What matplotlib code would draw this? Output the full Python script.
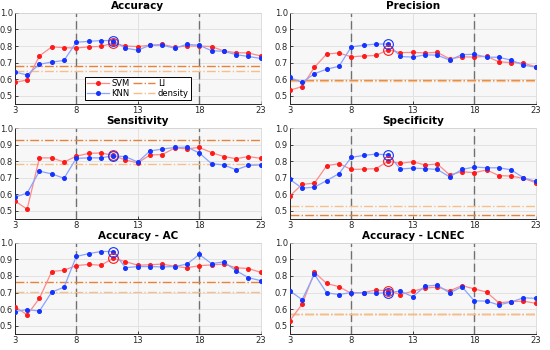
import matplotlib.pyplot as plt
import numpy as np

plt.rcParams.update({'font.size': 6, 'font.family': 'DejaVu Sans'})

# 数据
x = np.arange(3, 24)
titles = ['Accuracy', 'Precision', 'Sensitivity', 'Specificity', 'Accuracy - AC', 'Accuracy - LCNEC']

svm_acc = [0.58, 0.595, 0.74, 0.795, 0.79, 0.788, 0.795, 0.798, 0.818, 0.80, 0.797, 0.805, 0.81, 0.793, 0.80, 0.80, 0.797, 0.77, 0.76, 0.758, 0.74]
knn_acc = [0.643, 0.625, 0.69, 0.703, 0.713, 0.823, 0.828, 0.833, 0.833, 0.787, 0.775, 0.805, 0.805, 0.787, 0.81, 0.805, 0.772, 0.768, 0.748, 0.737, 0.725]
svm_pre = [0.533, 0.555, 0.672, 0.752, 0.758, 0.735, 0.74, 0.743, 0.778, 0.76, 0.762, 0.758, 0.762, 0.722, 0.735, 0.733, 0.738, 0.705, 0.70, 0.697, 0.675]
knn_pre = [0.61, 0.58, 0.633, 0.66, 0.678, 0.795, 0.805, 0.812, 0.812, 0.737, 0.733, 0.747, 0.745, 0.715, 0.748, 0.75, 0.733, 0.732, 0.715, 0.685, 0.672]
svm_sen = [0.56, 0.51, 0.82, 0.82, 0.795, 0.83, 0.847, 0.85, 0.835, 0.807, 0.79, 0.838, 0.84, 0.88, 0.875, 0.883, 0.852, 0.828, 0.815, 0.828, 0.817]
knn_sen = [0.583, 0.607, 0.74, 0.723, 0.697, 0.817, 0.82, 0.82, 0.833, 0.827, 0.795, 0.862, 0.873, 0.883, 0.885, 0.85, 0.785, 0.777, 0.748, 0.775, 0.777]
svm_spe = [0.59, 0.66, 0.667, 0.773, 0.785, 0.75, 0.752, 0.755, 0.80, 0.787, 0.797, 0.777, 0.783, 0.717, 0.737, 0.73, 0.747, 0.713, 0.71, 0.697, 0.67]
knn_spe = [0.69, 0.637, 0.643, 0.683, 0.725, 0.823, 0.835, 0.843, 0.838, 0.753, 0.758, 0.755, 0.75, 0.705, 0.75, 0.765, 0.76, 0.76, 0.748, 0.70, 0.678]
svm_ac = [0.615, 0.565, 0.665, 0.827, 0.835, 0.863, 0.87, 0.865, 0.907, 0.887, 0.865, 0.868, 0.872, 0.858, 0.85, 0.862, 0.867, 0.872, 0.85, 0.845, 0.822]
knn_ac = [0.585, 0.597, 0.588, 0.703, 0.732, 0.918, 0.935, 0.948, 0.948, 0.85, 0.857, 0.857, 0.855, 0.857, 0.872, 0.93, 0.875, 0.885, 0.832, 0.79, 0.772]
svm_lc = [0.53, 0.63, 0.822, 0.755, 0.735, 0.695, 0.70, 0.715, 0.71, 0.688, 0.708, 0.727, 0.733, 0.71, 0.742, 0.722, 0.703, 0.638, 0.645, 0.648, 0.635]
knn_lc = [0.71, 0.657, 0.81, 0.698, 0.688, 0.70, 0.698, 0.695, 0.70, 0.708, 0.675, 0.738, 0.745, 0.697, 0.735, 0.65, 0.648, 0.625, 0.643, 0.668, 0.665]

svm_all = [svm_acc, svm_pre, svm_sen, svm_spe, svm_ac, svm_lc]
knn_all = [knn_acc, knn_pre, knn_sen, knn_spe, knn_ac, knn_lc]
li_vals = [0.68, 0.593, 0.928, 0.472, 0.765, 0.573]
density_vals = [0.65, 0.587, 0.785, 0.53, 0.705, 0.573]
best_x = 11
xticks = [3, 8, 13, 18, 23]

# 颜色
red, red_line = '#ff1a1a', '#ff8a8a'
blue, blue_line = '#1433ff', '#8aa4ff'
li_col, den_col = '#e8823a', '#f6bf8a'

fig = plt.figure(figsize=(5.5, 3.5), dpi=100)
lefts = [0.027, 0.527]
bottoms = [0.703, 0.374, 0.046]
w, h = 0.447, 0.26

for i in range(6):
    ax = fig.add_axes([lefts[i % 2], bottoms[i // 2], w, h])
    ax.set_facecolor('#f7f7f7')
    svm = np.array(svm_all[i])
    knn = np.array(knn_all[i])
    ax.axvline(8, color='#707070', linestyle=(0, (6, 3)), linewidth=1.0, zorder=1)
    ax.axvline(18, color='#707070', linestyle=(0, (6, 3)), linewidth=1.0, zorder=1)
    l1, = ax.plot(x, svm, color=red_line, linewidth=0.9, marker='o', markersize=2.6,
                  markerfacecolor=red, markeredgecolor=red, label='SVM', zorder=3)
    l2, = ax.plot(x, knn, color=blue_line, linewidth=0.9, marker='o', markersize=2.6,
                  markerfacecolor=blue, markeredgecolor=blue, label='KNN', zorder=4)
    l3 = ax.axhline(li_vals[i], color=li_col, linestyle='-.', linewidth=1.0, label='LI', zorder=2)
    l4 = ax.axhline(density_vals[i], color=den_col, linestyle='-.', linewidth=1.0, label='density', zorder=2)
    k = best_x - 3
    ax.plot(best_x, svm[k], marker='o', markersize=7, markerfacecolor='none',
            markeredgecolor=red, markeredgewidth=0.8, zorder=5)
    ax.plot(best_x, knn[k], marker='o', markersize=7, markerfacecolor='none',
            markeredgecolor=blue, markeredgewidth=0.8, zorder=5)
    ax.set_xlim(3, 23)
    ax.set_ylim(0.45, 1.0)
    ax.set_xticks(xticks)
    ax.set_yticks([0.5, 0.6, 0.7, 0.8, 0.9, 1.0])
    ax.set_yticklabels(['0.5', '0.6', '0.7', '0.8', '0.9', '1.0'])
    ax.grid(True, color='#e2e2e2', linewidth=0.7, zorder=0)
    ax.set_axisbelow(True)
    ax.tick_params(length=2, width=0.6, colors='#262626', pad=1.5, direction='in')
    for s in ['left', 'bottom']:
        ax.spines[s].set_color('#262626')
        ax.spines[s].set_linewidth(0.7)
    for s in ['top', 'right']:
        ax.spines[s].set_color('#d0d0d0')
        ax.spines[s].set_linewidth(0.5)
    ax.set_title(titles[i], fontsize=7.5, fontweight='bold', pad=3)
    if i == 0:
        leg = ax.legend(handles=[l1, l2, l3, l4], ncol=2, loc='lower center',
                        bbox_to_anchor=(0.5, 0.04), fontsize=6, frameon=True,
                        fancybox=False, edgecolor='black', framealpha=1,
                        handlelength=2.6, columnspacing=0.5, labelspacing=0.15,
                        borderpad=0.25, handletextpad=0.3, borderaxespad=0)
        leg.get_frame().set_linewidth(0.7)

plt.savefig('out.png', dpi=100)
